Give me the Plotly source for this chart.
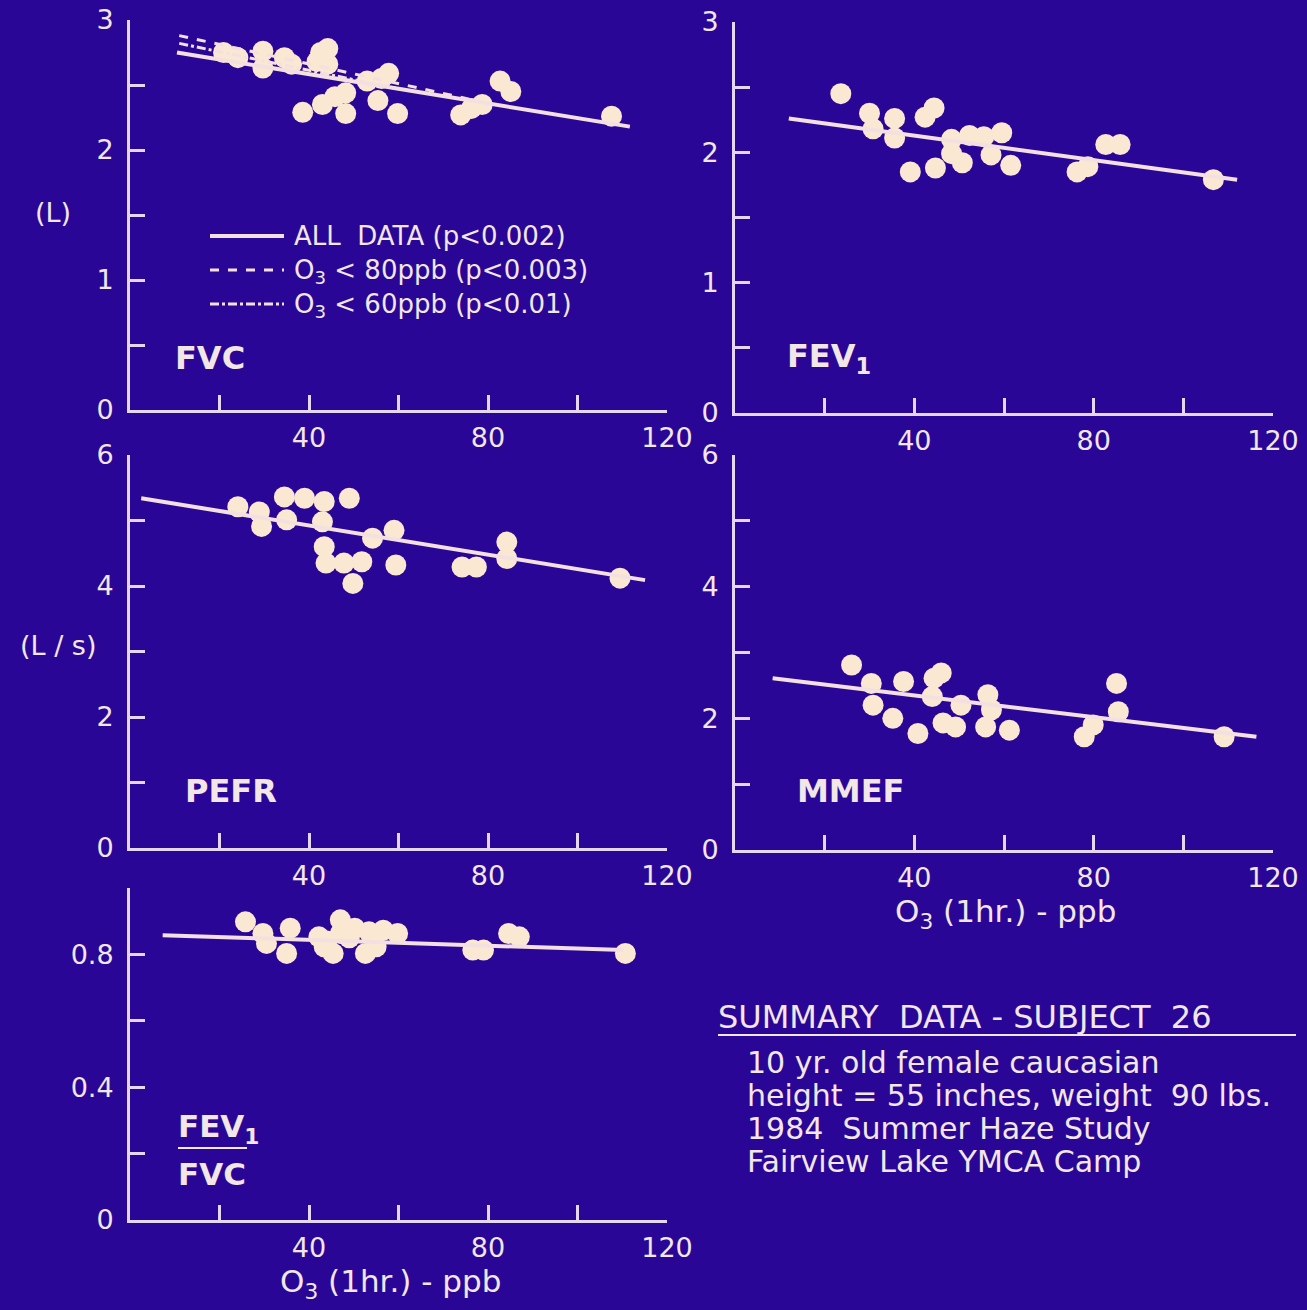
import plotly.graph_objects as go

# ---------------- data ----------------
fvc_o3 = [20.9, 24.1, 29.7, 29.7, 34.5, 36.1, 42.6, 44.2, 41.8, 44.2, 48.2, 45.8, 43.0, 38.6,
          48.2, 55.4, 56.2, 57.8, 59.8, 53.0, 73.9, 76.3, 78.7, 82.7, 85.1, 107.6]
fvc_val = [2.75, 2.71, 2.76, 2.63, 2.71, 2.66, 2.75, 2.78, 2.68, 2.66, 2.44, 2.41, 2.35, 2.29,
           2.28, 2.38, 2.55, 2.59, 2.28, 2.53, 2.27, 2.32, 2.35, 2.53, 2.45, 2.26]
fvc_fit_all_x = [10.5, 111.7]
fvc_fit_all_y = [2.75, 2.18]
fvc_fit_80_x = [11.0, 80.0]
fvc_fit_80_y = [2.88, 2.36]
fvc_fit_60_x = [11.0, 60.0]
fvc_fit_60_y = [2.82, 2.47]

fev1_o3 = [23.6, 30.0, 30.8, 35.6, 35.6, 42.4, 44.4, 39.1, 44.7, 48.3, 48.3, 50.7, 52.3,
           55.5, 57.1, 59.5, 61.5, 76.3, 78.7, 82.7, 85.9, 106.7]
fev1_val = [2.45, 2.30, 2.18, 2.26, 2.11, 2.27, 2.34, 1.85, 1.88, 2.10, 1.99, 1.92, 2.13,
            2.12, 1.98, 2.15, 1.90, 1.85, 1.89, 2.06, 2.06, 1.79]
fev1_fit_x = [12.0, 112.0]
fev1_fit_y = [2.26, 1.79]

pefr_o3 = [24.1, 28.9, 29.4, 34.5, 35.0, 39.0, 43.4, 43.0, 49.0, 43.4, 43.8, 47.8, 51.8,
           49.8, 54.2, 59.0, 59.4, 74.2, 77.4, 84.2, 84.2, 109.5]
pefr_val = [5.21, 5.13, 4.91, 5.36, 5.01, 5.34, 5.29, 4.98, 5.34, 4.60, 4.35, 4.35, 4.37,
            4.04, 4.73, 4.85, 4.32, 4.29, 4.29, 4.67, 4.42, 4.12]
pefr_fit_x = [2.5, 115.1]
pefr_fit_y = [5.34, 4.09]

mmef_o3 = [26.0, 30.4, 30.8, 35.2, 37.6, 40.8, 44.4, 46.0, 44.0, 46.4, 49.2, 50.4, 56.4,
           57.2, 55.9, 61.2, 77.9, 79.9, 85.1, 85.5, 109.1]
mmef_val = [2.81, 2.53, 2.20, 2.00, 2.56, 1.77, 2.61, 2.69, 2.33, 1.93, 1.87, 2.20, 2.36,
            2.13, 1.87, 1.82, 1.72, 1.90, 2.53, 2.10, 1.72]
mmef_fit_x = [8.4, 116.3]
mmef_fit_y = [2.61, 1.72]

ratio_o3 = [25.8, 29.7, 30.5, 35.8, 35.0, 42.2, 43.4, 45.4, 47.0, 47.0, 50.2, 53.4, 52.6,
            56.6, 59.8, 55.0, 76.6, 79.0, 84.6, 87.0, 110.7, 44.0, 49.0]
ratio_val = [0.898, 0.863, 0.833, 0.879, 0.803, 0.853, 0.823, 0.803, 0.904, 0.863, 0.879,
             0.868, 0.803, 0.873, 0.863, 0.823, 0.813, 0.813, 0.863, 0.853, 0.803, 0.84, 0.85]
ratio_fit_x = [7.3, 110.3]
ratio_fit_y = [0.858, 0.813]

x_tickvals = [40, 80, 120]
x_minor = [20, 60, 100]
yL_tickvals = [0, 1, 2, 3]
yL_minor = [0.5, 1.5, 2.5]
yLs_tickvals = [0, 2, 4, 6]
yLs_minor = [1, 3, 5]
yR_tickvals = [0, 0.4, 0.8]
yR_ticktext = ["0", "0.4", "0.8"]
yR_minor = [0.2, 0.6, 1.0]

legend_names = ["ALL  DATA (p&lt;0.002)",
                "O<sub>3</sub> &lt; 80ppb (p&lt;0.003)",
                "O<sub>3</sub> &lt; 60ppb (p&lt;0.01)"]
legend_dashes = ["solid", "dash", "dashdot"]

summary_title = "SUMMARY  DATA - SUBJECT  26"
summary_lines = ["10 yr. old female caucasian",
                 "height = 55 inches, weight  90 lbs.",
                 "1984  Summer Haze Study",
                 "Fairview Lake YMCA Camp"]

# ---------------- style ----------------
BG = "#2a0696"
DOT = "#fbe8d2"
LINE = "#f4e0e0"
AXIS = "#e6d6ee"
TXT = "#f3e6e6"
FONT = "DejaVu Sans"
W, H = 1307, 1310

fig = go.Figure()

def add_panel(n, xs, ys, fx, fy):
    xa = "x" if n == 1 else f"x{n}"
    ya = "y" if n == 1 else f"y{n}"
    fig.add_trace(go.Scatter(x=xs, y=ys, mode="markers", xaxis=xa, yaxis=ya,
                             marker=dict(size=21, color=DOT, line=dict(width=0)),
                             showlegend=False, hoverinfo="skip"))
    fig.add_trace(go.Scatter(x=fx, y=fy, mode="lines", xaxis=xa, yaxis=ya,
                             line=dict(color=LINE, width=4), showlegend=False))

add_panel(1, fvc_o3, fvc_val, fvc_fit_all_x, fvc_fit_all_y)
fig.add_trace(go.Scatter(x=fvc_fit_80_x, y=fvc_fit_80_y, mode="lines", xaxis="x", yaxis="y",
                         line=dict(color=LINE, width=3, dash="dash"), showlegend=False))
fig.add_trace(go.Scatter(x=fvc_fit_60_x, y=fvc_fit_60_y, mode="lines", xaxis="x", yaxis="y",
                         line=dict(color=LINE, width=3, dash="dashdot"), showlegend=False))
add_panel(2, fev1_o3, fev1_val, fev1_fit_x, fev1_fit_y)
add_panel(3, pefr_o3, pefr_val, pefr_fit_x, pefr_fit_y)
add_panel(4, mmef_o3, mmef_val, mmef_fit_x, mmef_fit_y)
add_panel(5, ratio_o3, ratio_val, ratio_fit_x, ratio_fit_y)

def px_x(p):
    return p / W

def px_y(p):
    return 1 - p / H

xl = [px_x(130), px_x(667)]
xr = [px_x(735), px_x(1273)]
doms = {
    1: (xl, [px_y(410), px_y(20)]),
    2: (xr, [px_y(413), px_y(22)]),
    3: (xl, [px_y(848), px_y(455)]),
    4: (xr, [px_y(850), px_y(455)]),
    5: (xl, [px_y(1220), px_y(888)]),
}
yticks = {
    1: (yL_tickvals, [str(v) for v in yL_tickvals], yL_minor, [0, 3]),
    2: (yL_tickvals, [str(v) for v in yL_tickvals], yL_minor, [0, 3]),
    3: (yLs_tickvals, [str(v) for v in yLs_tickvals], yLs_minor, [0, 6]),
    4: (yLs_tickvals, [str(v) for v in yLs_tickvals], yLs_minor, [0, 6]),
    5: (yR_tickvals, yR_ticktext, yR_minor, [0, 1.0]),
}

axis_common = dict(showline=True, linecolor=AXIS, linewidth=3, showgrid=False,
                   zeroline=False, ticks="inside", tickcolor=AXIS, tickwidth=3,
                   ticklen=15, automargin=False,
                   tickfont=dict(family=FONT, size=27, color=TXT))

def minor(vals):
    return dict(tickmode="array", tickvals=vals, ticks="inside", ticklen=15,
                tickwidth=3, tickcolor=AXIS, showgrid=False)

for n in range(1, 6):
    xk = "xaxis" if n == 1 else f"xaxis{n}"
    yk = "yaxis" if n == 1 else f"yaxis{n}"
    yid = "y" if n == 1 else f"y{n}"
    xid = "x" if n == 1 else f"x{n}"
    xd, yd = doms[n]
    tv, tt, mv, rg = yticks[n]
    fig.layout[xk] = dict(domain=xd, anchor=yid, range=[0, 120], tickmode="array",
                          tickvals=x_tickvals, ticktext=[str(v) for v in x_tickvals],
                          minor=minor(x_minor), ticklabelstandoff=2, **axis_common)
    fig.layout[yk] = dict(domain=yd, anchor=xid, range=rg, tickmode="array",
                          tickvals=tv, ticktext=tt, minor=minor(mv),
                          ticklabelstandoff=8, **axis_common)

ann = []
def text(x, y, s, size=26, anchor="left", bold=False, align="left"):
    if bold:
        s = f"<b>{s}</b>"
    ann.append(dict(x=px_x(x), y=px_y(y), xref="paper", yref="paper", text=s,
                    showarrow=False, xanchor=anchor, yanchor="middle", align=align,
                    font=dict(family=FONT, size=size, color=TXT)))

text(173, 358, "FVC", 32, bold=True)
text(785, 358, "FEV<sub>1</sub>", 32, bold=True)
text(183, 791, "PEFR", 32, bold=True)
text(795, 791, "MMEF", 32, bold=True)
text(176, 1128, "FEV<sub>1</sub>", 31, bold=True)
text(176, 1174, "FVC", 31, bold=True)
text(53, 212, "(L)", 27, anchor="center")
text(58, 645, "(L / s)", 27, anchor="center")
text(1005, 913, "O<sub>3</sub> (1hr.) - ppb", 31, anchor="center")
text(390, 1283, "O<sub>3</sub> (1hr.) - ppb", 31, anchor="center")
text(716, 1017, summary_title, 32)
for i, s in enumerate(summary_lines):
    text(745, 1062 + i * 33, s, 30)

# legend drawn as keys + one multi-line label inside the FVC panel
legend_rows = [236, 270, 304]
text(292, 272, "<br>".join(legend_names), 26)
shapes = []
for i, ds in enumerate(legend_dashes):
    shapes.append(dict(type="line", xref="paper", yref="paper",
                       x0=px_x(210), x1=px_x(284),
                       y0=px_y(legend_rows[i]), y1=px_y(legend_rows[i]),
                       line=dict(color=LINE, width=3 if i else 4, dash=ds)))

shapes += [
    dict(type="line", xref="paper", yref="paper", x0=px_x(178), x1=px_x(247),
         y0=px_y(1148), y1=px_y(1148), line=dict(color=TXT, width=2)),
    dict(type="line", xref="paper", yref="paper", x0=px_x(718), x1=px_x(1296),
         y0=px_y(1035), y1=px_y(1035), line=dict(color=TXT, width=2)),
]

fig.update_layout(
    width=W, height=H,
    margin=dict(l=0, r=0, t=0, b=0, autoexpand=False),
    paper_bgcolor=BG, plot_bgcolor=BG,
    annotations=ann, shapes=shapes,
    showlegend=False,
)

fig.write_html("out.html", config={"displayModeBar": False},
               post_script="document.body.style.margin='0';"
                           "document.body.style.background='#2a0696';")
